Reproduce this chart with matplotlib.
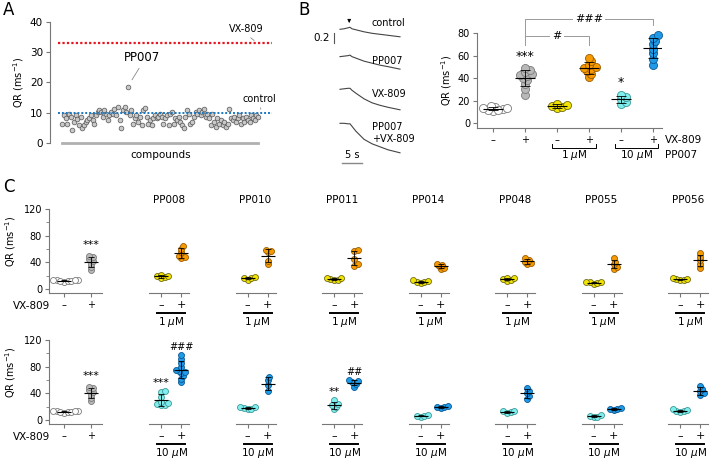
import numpy as np
import matplotlib

matplotlib.use("Agg")
import matplotlib.pyplot as plt

W, H = 710, 461
plt.rcParams["font.family"] = ["DejaVu Sans"]
plt.rcParams["font.size"] = 7

# ---------------- data ----------------
# A: screen of compounds, QR (ms^-1)
SCREEN_QR = [6.4, 9.2, 8.1, 6.4, 9.7, 8.6, 4.2, 7.0, 9.2, 8.0, 5.9, 8.6, 4.8, 5.9,
             7.0, 7.5, 8.1, 9.2, 7.5, 6.4, 9.2, 10.3, 10.8, 10.3, 8.6, 10.8, 9.7,
             7.5, 9.2, 10.3, 9.7, 11.4, 9.2, 12.0, 7.5, 4.8, 10.8, 12.0, 10.3, 18.6,
             9.2, 10.8, 6.4, 8.1, 9.2, 7.0, 8.6, 5.9, 10.8, 11.7, 8.6, 6.4, 7.5, 5.9,
             8.1, 9.2, 8.1, 8.6, 9.7, 8.6, 6.4, 8.1, 9.2, 5.9, 9.7, 10.3, 6.4, 8.1,
             7.5, 8.6, 7.0, 5.9, 4.8, 8.6, 10.8, 9.7, 6.4, 7.0, 8.6, 10.3, 9.7, 10.8,
             9.2, 10.3, 11.4, 8.6, 9.7, 8.1, 5.9, 9.7, 7.0, 5.3, 8.1, 6.4, 7.5, 5.9,
             7.0, 5.3, 6.4, 11.4, 8.1, 7.5, 8.6, 7.0, 8.1, 9.2, 6.4, 8.1, 7.0, 8.6,
             7.5, 7.0, 9.2, 8.1, 7.5, 9.2, 8.6]
PP007_IDX = 39
VX809_LEVEL = 33
CONTROL_LEVEL = 10

# B: fluorescence traces (time in s, signal relative to start)
TRACE_T = [0, 1, 2, 2.5, 3, 4, 6, 8, 10, 12, 15]
TRACE_LABELS = ["control", "PP007", "VX-809", "PP007\n+VX-809"]
TRACE_CONTROL = [0, 0.01, 0.03, 0.04, 0.01, -0.01, -0.05, -0.08, -0.10, -0.12, -0.15]
TRACE_PP007 = [0, 0.01, 0.02, 0.03, 0.0, -0.03, -0.09, -0.13, -0.17, -0.20, -0.25]
TRACE_VX809 = [0, 0.01, 0.02, 0.02, -0.02, -0.08, -0.19, -0.27, -0.32, -0.36, -0.41]
TRACE_COMBO = [0, 0, -0.01, -0.01, -0.06, -0.16, -0.32, -0.41, -0.47, -0.53, -0.59]

# B: QR per condition
B_CONTROL = [11, 12, 12.5, 13, 13.5, 14, 15, 11.5]
B_VX809 = [25, 30, 35, 38, 40, 42, 43, 44, 45, 47, 49]
B_PP007_1 = [13, 14, 15, 16, 17]
B_PP007_1_VX = [41, 44, 46, 48, 49, 50, 52, 55, 58]
B_PP007_10 = [17, 19, 21, 23, 25]
B_PP007_10_VX = [52, 57, 62, 66, 70, 73, 76, 78]

# C: controls and compounds at 1 uM (row 1) and 10 uM (row 2)
C_CONTROL = [11, 12, 12.5, 13, 13.5, 14, 12, 13]
C_VX809 = [28, 33, 38, 42, 45, 48, 50]
C_COMPOUNDS = ["PP008", "PP010", "PP011", "PP014", "PP048", "PP055", "PP056"]
C_1UM = [[16, 18, 19, 20, 21], [14, 16, 17, 18], [13, 14, 15, 16, 17],
         [9, 10, 11, 12, 13], [12, 14, 15, 16, 17], [8, 9, 10, 10, 11],
         [13, 14, 14.5, 15, 16]]
C_1UM_VX = [[46, 48, 50, 55, 60, 64], [37, 42, 55, 57, 59], [35, 38, 45, 57, 59],
            [30, 32, 34, 36, 38], [37, 39, 41, 44, 47], [30, 33, 37, 41, 46],
            [32, 38, 43, 48, 54]]
C_10UM = [[22, 23, 24, 25, 27, 35, 42, 44], [16, 17, 18, 19, 20], [16, 20, 22, 24, 30],
          [5, 6, 6.5, 7], [11, 12, 13, 14], [4, 5, 6, 7], [12, 13, 14, 15, 16]]
C_10UM_VX = [[57, 62, 66, 70, 72, 74, 75, 80, 85, 92, 98], [43, 52, 60, 64],
             [50, 54, 57, 58, 60], [18, 19, 20, 21], [32, 36, 40, 44, 48],
             [15, 16, 17, 18], [37, 40, 43, 47, 51]]
# significance marks in C: (row, compound index, position, text)
C_MARKS = [(1, 0, 0, "***"), (1, 0, 1, "###"), (1, 2, 0, "**"), (1, 2, 1, "##")]

STYLES = {
    "ctrl": ("white", "#7a7a7a"),
    "vx": ("#b8b8b8", "#7a7a7a"),
    "yellow": ("#f2e400", "#6e6a10"),
    "orange": ("#f59a00", "#9a5a00"),
    "cyan": ("#80eeec", "#3a9898"),
    "blue": ("#1e9ae6", "#0b5896"),
}
AXC = "#777777"


def px_axes(fig, l, t, r, b):
    return fig.add_axes([l / W, 1 - b / H, (r - l) / W, (b - t) / H])


def ftext(fig, x, y, s, **kw):
    kw.setdefault("va", "center")
    fig.text(x / W, 1 - y / H, s, **kw)


def swarm_offsets(values, xd, yd, step=0.3, min_sep=0.45):
    placed = []
    offs = np.zeros(len(values))
    cands = [0.0]
    for n in range(1, 25):
        cands += [n * step, -n * step]
    for i in np.argsort(values):
        v = values[i]
        for c in cands:
            if all((c - px) ** 2 + ((v - py) / yd) ** 2 >= min_sep ** 2 for px, py in placed):
                break
        placed.append((c, v))
        offs[i] = c
    return offs * xd


def draw_group(ax, pos, vals, style, xd, yd, ms, half, cap):
    vals = np.asarray(vals, float)
    off = swarm_offsets(vals, xd, yd)
    face, edge = STYLES[style]
    ax.plot(pos + off, vals, "o", ms=ms, mfc=face, mec=edge, mew=0.6,
            ls="none", zorder=3, clip_on=False)
    m, s = vals.mean(), vals.std(ddof=1)
    ax.hlines(m, pos - half, pos + half, color="k", lw=0.8, zorder=4)
    ax.errorbar(pos, m, yerr=s, color="k", lw=0.6, capsize=cap, capthick=0.6, zorder=4)


fig = plt.figure(figsize=(W / 100, H / 100), dpi=100)

# ---------------- A ----------------
axA = px_axes(fig, 50, 22, 272, 143)
n = len(SCREEN_QR)
idx = np.arange(n)
axA.plot(idx, SCREEN_QR, "o", ms=3.4, mfc="#c8c8c8", mec="#555555", mew=0.5, ls="none", zorder=3)
axA.axhline(VX809_LEVEL, xmin=0.036, xmax=1, color="#e8141e", ls=(0, (1, 1)), lw=1.6)
axA.axhline(CONTROL_LEVEL, xmin=0.036, xmax=1, color="#1a78c2", ls=(0, (1, 1)), lw=1.4, zorder=4)
axA.set_xlim(-7.2, n - 1 + 8.3)
axA.set_ylim(0, 40)
axA.set_yticks([0, 10, 20, 30, 40])
axA.set_xticks([])
for sp in ["top", "right"]:
    axA.spines[sp].set_visible(False)
axA.spines["left"].set_color(AXC)
axA.spines["left"].set_linewidth(0.8)
axA.spines["bottom"].set_bounds(0, n - 1)
axA.spines["bottom"].set_color("#b0b0b0")
axA.spines["bottom"].set_linewidth(2)
axA.tick_params(axis="y", length=3, color=AXC, labelsize=7.5, pad=2)
axA.set_ylabel("QR (ms$^{-1}$)", fontsize=7, labelpad=3)
axA.set_xlabel("compounds", fontsize=7.5, labelpad=5)
ap = dict(arrowstyle="-", color="#888888", lw=0.6, shrinkA=1, shrinkB=2, relpos=(0.5, 0))
axA.annotate("PP007", xy=(PP007_IDX + 1.5, SCREEN_QR[PP007_IDX] + 1.5),
             xytext=(PP007_IDX + 8, 26), ha="center", va="bottom", fontsize=8.5,
             arrowprops=ap)
axA.annotate("VX-809", xy=(n - 1 - 1, VX809_LEVEL + 0.3), xytext=(n - 1 - 7, 36),
             ha="center", va="bottom", fontsize=7, arrowprops=ap, annotation_clip=False)
axA.annotate("control", xy=(n - 1 + 2, CONTROL_LEVEL + 0.3), xytext=(n - 1 + 1, 13),
             ha="center", va="bottom", fontsize=7, arrowprops=ap, annotation_clip=False)

# ---------------- B traces ----------------
axT = px_axes(fig, 310, 10, 412, 172)
axT.axis("off")
axT.set_xlim(-7.5, 18)
axT.set_ylim(-2.854, 0.386)
offsets = [0, -0.547, -1.2, -1.88]
label_y = [0.126, -0.634, -1.294, -2.07]
for tr, off, lab, ly in zip([TRACE_CONTROL, TRACE_PP007, TRACE_VX809, TRACE_COMBO],
                            offsets, TRACE_LABELS, label_y):
    axT.plot(TRACE_T, np.asarray(tr) + off, color="#444444", lw=0.8)
    axT.text(8, ly, lab, ha="left", va="center", fontsize=7, linespacing=1.2)
axT.plot([-1.5, -1.5], [-0.074, -0.274], color="#555555", lw=0.8)
axT.text(-2.6, -0.174, "0.2", ha="right", va="center", fontsize=7.5)
axT.plot([0.5, 5.5], [-2.674, -2.674], color="#888888", lw=1)
axT.text(3, -2.52, "5 s", ha="center", va="center", fontsize=7)
axT.annotate("", xy=(2.3, 0.07), xytext=(2.3, 0.25),
             arrowprops=dict(arrowstyle="-|>", color="k", lw=0.6, mutation_scale=5))

# ---------------- B scatter ----------------
axB = px_axes(fig, 477, 33, 662, 128)
b_groups = [(B_CONTROL, "ctrl"), (B_VX809, "vx"), (B_PP007_1, "yellow"),
            (B_PP007_1_VX, "orange"), (B_PP007_10, "cyan"), (B_PP007_10_VX, "blue")]
for pos, (vals, st) in enumerate(b_groups):
    draw_group(axB, pos, vals, st, 0.25, 7.1, 5.8, 0.3, 3.5)
axB.set_xlim(-0.5, 5.28)
axB.set_ylim(-4.44, 80)
axB.set_yticks([0, 20, 40, 60, 80])
axB.set_xticks(range(6))
axB.set_xticklabels(["–", "+"] * 3, fontsize=8)
for sp in ["top", "right"]:
    axB.spines[sp].set_visible(False)
for sp in ["left", "bottom"]:
    axB.spines[sp].set_color(AXC)
    axB.spines[sp].set_linewidth(0.8)
axB.tick_params(length=3, color=AXC, labelsize=7, pad=2)
axB.set_ylabel("QR (ms$^{-1}$)", fontsize=7, labelpad=3)
gcol = "#999999"
kw = dict(color=gcol, lw=0.7, clip_on=False)
axB.plot([1, 1, 3, 3], [69, 77.3, 77.3, 69], **kw)
axB.plot([1, 1, 5, 5], [77.3, 92.4, 92.4, 87], **kw)
bb = dict(facecolor="white", edgecolor="none", pad=1.5)
axB.text(2, 77.3, "#", ha="center", va="center", fontsize=8, bbox=bb)
axB.text(3, 92.4, "###", ha="center", va="center", fontsize=8, bbox=bb)
axB.text(1, 58.7, "***", ha="center", va="center", fontsize=9)
axB.text(4, 36.4, "*", ha="center", va="center", fontsize=9)
for x0, x1, lab in [(1.84, 3.22, "1 $\\mu$M"), (3.81, 5.16, "10 $\\mu$M")]:
    axB.plot([x0, x0, x1, x1], [-18.7, -22.2, -22.2, -18.7], color="k", lw=0.7, clip_on=False)
    axB.text((x0 + x1) / 2, -28.5, lab, ha="center", va="center", fontsize=7.5)
ftext(fig, 665, 140, "VX-809", ha="left", fontsize=7.5)
ftext(fig, 665, 155, "PP007", ha="left", fontsize=7.5)

# ---------------- C ----------------
rows = [(209, 293, "1 $\\mu$M", C_1UM, C_1UM_VX, "yellow", "orange"),
        (340, 424, "10 $\\mu$M", C_10UM, C_10UM_VX, "cyan", "blue")]
for r, (top, bot, conc, minus, plus, st_m, st_p) in enumerate(rows):
    ax0 = px_axes(fig, 49, top, 102, bot)
    draw_group(ax0, 0, C_CONTROL, "ctrl", 0.22, 9, 4.3, 0.26, 2.5)
    draw_group(ax0, 1, C_VX809, "vx", 0.22, 9, 4.3, 0.26, 2.5)
    ax0.text(1, 66, "***", ha="center", va="center", fontsize=8)
    ax0.set_xlim(-0.556, 1.407)
    ax0.set_ylim(-6, 120)
    ax0.set_yticks([0, 40, 80, 120])
    ax0.set_yticks([20, 60, 100], minor=True)
    ax0.set_xticks([0, 1])
    ax0.set_xticklabels(["–", "+"], fontsize=8)
    for sp in ["top", "right"]:
        ax0.spines[sp].set_visible(False)
    for sp in ["left", "bottom"]:
        ax0.spines[sp].set_color(AXC)
        ax0.spines[sp].set_linewidth(0.8)
    ax0.tick_params(length=3, color=AXC, labelsize=7, pad=2)
    ax0.tick_params(which="minor", length=2, color=AXC)
    ax0.set_ylabel("QR (ms$^{-1}$)", fontsize=7)
    ax0.yaxis.set_label_coords(-0.58, 0.62)
    ftext(fig, 13, bot + 13, "VX-809", ha="left", fontsize=7.5)

    for i, name in enumerate(C_COMPOUNDS):
        left = 149 + i * 86.5
        ax = px_axes(fig, left, top, left + 40, bot)
        draw_group(ax, 0, minus[i], st_m, 0.3, 9, 4.3, 0.35, 2.5)
        draw_group(ax, 1, plus[i], st_p, 0.3, 9, 4.3, 0.35, 2.5)
        ax.set_xlim(-0.6, 1.4)
        ax.set_ylim(-6, 120)
        ax.set_yticks([])
        ax.set_xticks([0, 1])
        ax.set_xticklabels(["–", "+"], fontsize=8)
        for sp in ["top", "right", "left"]:
            ax.spines[sp].set_visible(False)
        ax.spines["bottom"].set_color(AXC)
        ax.spines["bottom"].set_linewidth(0.8)
        ax.tick_params(length=3, color=AXC, pad=2)
        if r == 0:
            ax.set_title(name, fontsize=7.5, pad=4)
        ax.plot([-0.2, 1.2], [-36, -36], color="k", lw=1.4, clip_on=False)
        ax.text(0.5, -50, conc, ha="center", va="center", fontsize=7.5)
        for mr, mi, mp, mt in C_MARKS:
            if mr == r and mi == i:
                vals = (minus if mp == 0 else plus)[i]
                ax.text(mp, max(vals) + 12, mt, ha="center", va="center",
                        fontsize=8 if "*" in mt else 7)

ftext(fig, 3, 10, "A", ha="left", fontsize=12)
ftext(fig, 298, 10, "B", ha="left", fontsize=12)
ftext(fig, 3, 187, "C", ha="left", fontsize=12)

fig.savefig("out.png", dpi=100)
